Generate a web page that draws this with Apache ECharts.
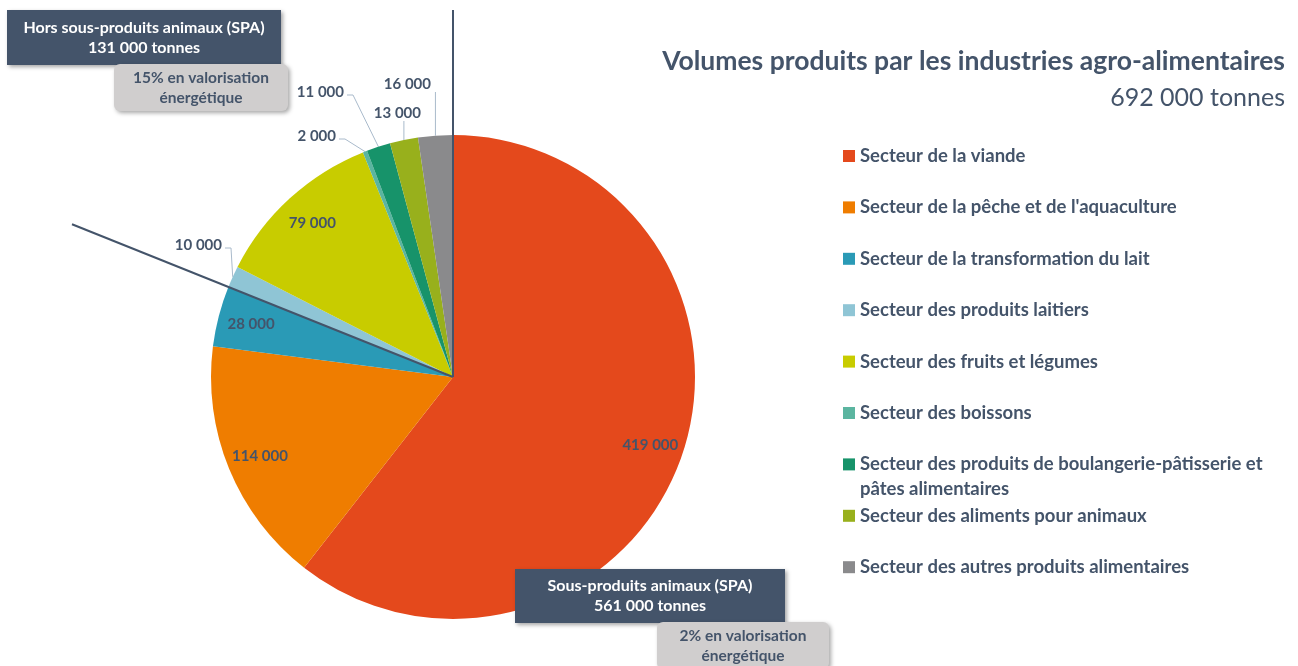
<!DOCTYPE html>
<html>
<head>
<meta charset="utf-8">
<script src="https://cdn.jsdelivr.net/npm/echarts@6/dist/echarts.min.js"></script>
<style>
  html, body { margin: 0; padding: 0; background: #fff; }
  #main { width: 1298px; height: 666px; }
</style>
</head>
<body>
<div id="main"></div>
<script>
// secteurs, dans l'ordre du camembert (sens horaire depuis midi)
var categories = [
  'Secteur de la viande',
  'Secteur de la pêche et de l\'aquaculture',
  'Secteur de la transformation du lait',
  'Secteur des produits laitiers',
  'Secteur des fruits et légumes',
  'Secteur des boissons',
  'Secteur des produits de boulangerie-pâtisserie et pâtes alimentaires',
  'Secteur des aliments pour animaux',
  'Secteur des autres produits alimentaires'
];
var volumes = [419000, 114000, 28000, 10000, 79000, 2000, 11000, 13000, 16000];
var sliceColors = ['#E4491C', '#EF7D00', '#2A9AB6', '#8FC5D5', '#C8CC00', '#5BB5A0', '#17936A', '#98B01C', '#8A8A8C'];
var spaCount = 3; // les 3 premiers secteurs = sous-produits animaux
var spaShare = '2%';
var horsSpaShare = '15%';

var FONT = 'Lato';
var INK = '#44546A';
var CX = 453, CY = 377, R = 242;

// où poser les petites étiquettes extérieures (bord droit, milieu)
var outerLabelPos = { 3: [222, 245], 5: [336, 136], 6: [344, 92], 7: [421, 113], 8: [431, 84] };

function fmt(v) {
  return String(v).replace(/\B(?=(\d{3})+(?!\d))/g, ' ');
}

var total = volumes.reduce(function (a, b) { return a + b; }, 0);
var spaTotal = volumes.slice(0, spaCount).reduce(function (a, b) { return a + b; }, 0);
var horsTotal = total - spaTotal;

var legends = categories.map(function (name, i) {
  var twoLines = name.length > 50;
  var centerY = 156 + i * 51.4;
  return {
    data: [name],
    orient: 'vertical',
    left: 843,
    top: twoLines ? centerY - 37.5 : centerY - 12.5,
    padding: 0,
    itemWidth: 12,
    itemHeight: 12,
    icon: 'rect',
    selectedMode: false,
    formatter: function (n) {
      // ligne vide en tête pour caler la 1re ligne sur le carré
      return n.length > 50 ? ' \nSecteur des produits de boulangerie-pâtisserie et\npâtes alimentaires' : n;
    },
    textStyle: {
      color: INK,
      fontFamily: FONT,
      fontWeight: 'bold',
      fontSize: 18.5,
      lineHeight: 25
    }
  };
});

var option = {
  animation: false,
  color: sliceColors,
  title: {
    text: 'Volumes produits par les industries agro-alimentaires',
    subtext: fmt(total) + ' tonnes',
    left: 'right',
    top: 43,
    padding: [5, 13, 5, 5],
    itemGap: 10,
    textStyle: { color: INK, fontFamily: FONT, fontWeight: 'bold', fontSize: 26.5 },
    subtextStyle: { color: INK, fontFamily: FONT, fontSize: 25 }
  },
  legend: legends,
  series: [
    {
      type: 'pie',
      center: [CX, CY],
      radius: R,
      startAngle: 90,
      avoidLabelOverlap: false,
      silent: true,
      data: volumes.map(function (v, i) {
        return { name: categories[i], value: v, label: { show: v < 20000 }, labelLine: { show: v < 20000 } };
      }),
      label: {
        position: 'outside',
        formatter: function (p) { return fmt(p.value); },
        color: INK,
        fontFamily: FONT,
        fontWeight: 'bold',
        fontSize: 15
      },
      labelLine: {
        length: 10,
        length2: 6,
        lineStyle: { color: '#A9BACB', width: 1 }
      },
      labelLayout: function (params) {
        var p = outerLabelPos[params.dataIndex];
        if (!p) return;
        var edge = params.labelLinePoints ? params.labelLinePoints[0] : null;
        var res = { x: p[0], y: p[1], align: 'right', verticalAlign: 'middle' };
        if (edge) {
          var bottom = p[1] + 8;
          if (edge[0] <= p[0] + 6) {
            res.labelLinePoints = [edge, [edge[0], bottom], [edge[0], bottom]];
          } else {
            res.labelLinePoints = [edge, [p[0] + 9, p[1] + 3], [p[0] + 3, p[1] + 3]];
          }
        }
        return res;
      }
    },
    {
      // étiquettes intérieures des grands secteurs
      type: 'pie',
      center: [CX, CY],
      radius: [R * 0.7, R],
      startAngle: 90,
      silent: true,
      itemStyle: { color: 'rgba(0,0,0,0)' },
      data: volumes.map(function (v, i) {
        return { name: categories[i], value: v, label: { show: v >= 20000 } };
      }),
      label: {
        position: 'inside',
        formatter: function (p) { return fmt(p.value); },
        color: INK,
        fontFamily: FONT,
        fontWeight: 'bold',
        fontSize: 15
      },
      labelLine: { show: false }
    }
  ]
};

var chart = echarts.init(document.getElementById('main'));
chart.setOption(option);

// lignes de séparation SPA / hors SPA, prises sur la mise en page du camembert
var pieData = chart.getModel().getSeriesByIndex(0).getData();
var lay0 = pieData.getItemLayout(0);
var laySplit = pieData.getItemLayout(spaCount - 1);
function rayEnd(angle, len) {
  return [lay0.cx + len * Math.cos(angle), lay0.cy + len * Math.sin(angle)];
}
var a1 = lay0.startAngle;
var a2 = laySplit.endAngle;
var p1 = rayEnd(a1, lay0.cy - 10);
var p2 = rayEnd(a2, (lay0.cx - 72) / Math.abs(Math.cos(a2)));

function box(id, x, y, w, h, fill, txt, txtColor, radius, size) {
  return [
    {
      type: 'rect', id: id + 'r', z: 100,
      shape: { x: x, y: y, width: w, height: h, r: radius },
      style: { fill: fill, shadowBlur: 4, shadowOffsetX: 2, shadowOffsetY: 2, shadowColor: 'rgba(0,0,0,0.35)' }
    },
    {
      type: 'text', id: id + 't', z: 101,
      x: x + w / 2, y: y + h / 2,
      style: {
        text: txt, fill: txtColor, font: 'bold ' + size + 'px ' + FONT,
        align: 'center', verticalAlign: 'middle', lineHeight: 20
      }
    }
  ];
}

var graphics = [
  { type: 'line', id: 'l1', z: 50, shape: { x1: lay0.cx, y1: lay0.cy, x2: p1[0], y2: p1[1] }, style: { stroke: INK, lineWidth: 2 } },
  { type: 'line', id: 'l2', z: 50, shape: { x1: lay0.cx, y1: lay0.cy, x2: p2[0], y2: p2[1] }, style: { stroke: INK, lineWidth: 2 } }
]
  .concat(box('b1', 7, 10, 274, 55, INK, 'Hors sous-produits animaux (SPA)\n' + fmt(horsTotal) + ' tonnes', '#fff', 0, 16))
  .concat(box('b2', 114, 64, 174, 47, '#D0CECE', horsSpaShare + ' en valorisation\nénergétique', INK, 6, 15.5))
  .concat(box('b3', 515, 569, 270, 54, INK, 'Sous-produits animaux (SPA)\n' + fmt(spaTotal) + ' tonnes', '#fff', 0, 16))
  .concat(box('b4', 657, 622, 172, 47, '#D0CECE', spaShare + ' en valorisation\nénergétique', INK, 6, 15.5));

chart.setOption({ graphic: graphics });
window.addEventListener('resize', function () { chart.resize(); });
</script>
</body>
</html>
